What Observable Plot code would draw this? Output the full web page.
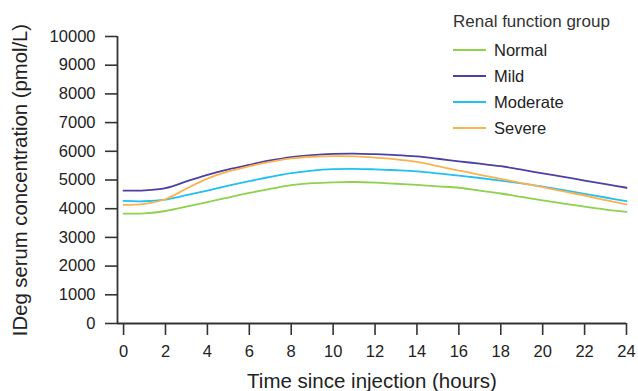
<!DOCTYPE html>
<html>
<head>
<meta charset="utf-8">
<script src="https://cdn.jsdelivr.net/npm/d3@7"></script>
<script src="https://cdn.jsdelivr.net/npm/@observablehq/plot@0.6"></script>
<style>
  html, body { margin: 0; padding: 0; background: #fff; }
  #wrap { position: relative; width: 638px; height: 391px; font-family: "Liberation Sans", Arial, sans-serif; }
  #legend { position: absolute; left: 453px; top: 12px; color: #222; }
  #legend .title { font-size: 17px; height: 25px; line-height: 20px; color: #333; }
  #legend .row { display: flex; align-items: center; height: 26px; font-size: 16.5px; }
  #legend .sw { width: 33px; height: 2px; margin-right: 8px; }
</style>
</head>
<body>
<div id="wrap"></div>
<script>
const hours = [0,1,2,3,4,5,6,7,8,9,10,11,12,13,14,15,16,17,18,19,20,21,22,23,24];
const groups = ["Normal", "Mild", "Moderate", "Severe"];
const colors = ["#8ed14b", "#4b40a3", "#20c0f0", "#fbb24e"];
const normal   = [3830,3840,3920,4070,4230,4390,4550,4690,4820,4890,4920,4930,4910,4870,4830,4780,4730,4630,4530,4410,4290,4180,4070,3970,3890];
const mild     = [4630,4640,4720,4950,5180,5370,5530,5680,5800,5870,5910,5920,5900,5870,5820,5740,5650,5570,5480,5360,5230,5110,4980,4860,4730];
const moderate = [4270,4260,4320,4470,4630,4800,4960,5110,5240,5330,5380,5390,5370,5340,5300,5230,5150,5070,4980,4880,4770,4650,4520,4390,4260];
const severe   = [4130,4170,4330,4700,5050,5300,5480,5630,5750,5810,5830,5820,5780,5720,5630,5480,5330,5180,5040,4890,4750,4600,4460,4300,4150];
const xTicks = [0,2,4,6,8,10,12,14,16,18,20,22,24];
const yTicks = [0,1000,2000,3000,4000,5000,6000,7000,8000,9000,10000];

const series = {Normal: normal, Mild: mild, Moderate: moderate, Severe: severe};
const rows = [];
for (const g of groups) hours.forEach((h, i) => rows.push({group: g, hour: h, value: series[g][i]}));

const axisColor = "#333";
const chart = Plot.plot({
  width: 638,
  height: 391,
  marginLeft: 117,
  marginRight: 12,
  marginTop: 36,
  marginBottom: 68,
  style: {fontFamily: "Liberation Sans, Arial, sans-serif", fontSize: "16.5px", color: "#222", background: "#fff"},
  x: {domain: [-0.29, 24]},
  y: {domain: [0, 10000]},
  color: {domain: groups, range: colors},
  marks: [
    Plot.axisX({ticks: xTicks, tickSize: 12, tickPadding: 10, stroke: axisColor, strokeWidth: 1.6, fontSize: 16.5,
      label: "Time since injection (hours)", labelAnchor: "center", labelArrow: "none", labelOffset: 64}),
    Plot.axisY({ticks: yTicks, tickSize: 12, tickPadding: 10, stroke: axisColor, strokeWidth: 1.6, fontSize: 16.5,
      tickFormat: d => String(d),
      label: "IDeg serum concentration (pmol/L)", labelAnchor: "center", labelArrow: "none", labelOffset: 105}),
    Plot.ruleY([0], {stroke: axisColor, strokeWidth: 1.8}),
    Plot.ruleX([-0.29], {stroke: axisColor, strokeWidth: 1.8}),
    Plot.line(rows, {x: "hour", y: "value", z: "group", stroke: "group", strokeWidth: 1.8, curve: "catmull-rom"})
  ]
});
chart.querySelectorAll("g[aria-label='x-axis label'] text").forEach(t => t.style.fontSize = "20.5px");
chart.querySelectorAll("g[aria-label='y-axis label'] text").forEach(t => t.style.fontSize = "20.3px");
const wrap = document.getElementById("wrap");
wrap.appendChild(chart);

const leg = document.createElement("div");
leg.id = "legend";
leg.innerHTML = `<div class="title">Renal function group</div>` +
  groups.map((g, i) => `<div class="row"><span class="sw" style="background:${colors[i]}"></span>${g}</div>`).join("");
wrap.appendChild(leg);
</script>
</body>
</html>
